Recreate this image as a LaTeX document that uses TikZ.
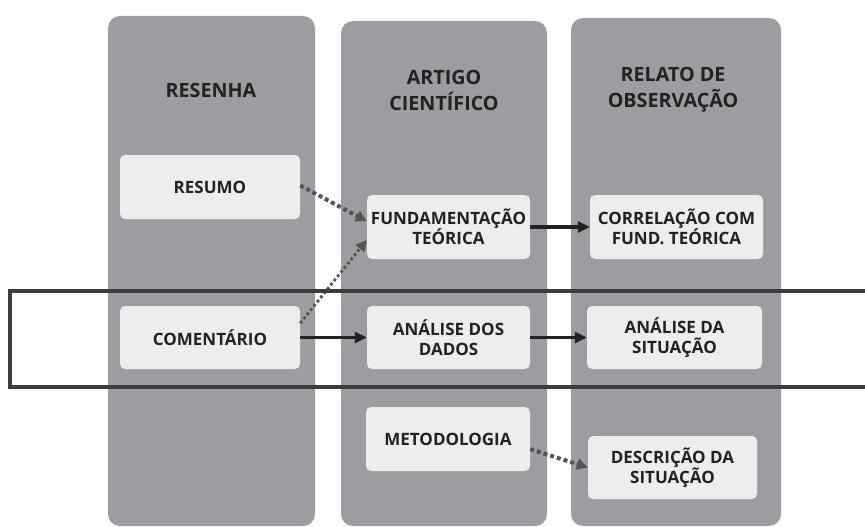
\documentclass[tikz,border=0pt]{standalone}
\usepackage{fontspec}
\setmainfont{Open Sans}
\definecolor{colgray}{RGB}{157,157,161}
\definecolor{boxgray}{RGB}{237,237,237}
\definecolor{txtgray}{RGB}{34,34,34}
\definecolor{dotgray}{RGB}{85,85,85}
\definecolor{framegray}{RGB}{60,60,60}
\usetikzlibrary{arrows.meta, calc, positioning}
\tikzset{
	col/.style={fill=colgray,rounded corners=12pt,inner sep=0pt},
	box/.style={fill=boxgray,rounded corners=5pt,inner sep=0pt,align=center,text=txtgray,font=\fontsize{17}{20}\selectfont\bfseries},
	title/.style={align=center,text=txtgray,font=\fontsize{19.7}{26}\selectfont\bfseries},
	solidarrow/.style={line width=3.2pt,txtgray,-{Triangle[length=12pt,width=11pt]}},
	dotarrow/.style={line width=4pt,dotgray,dash pattern=on 4pt off 3pt,-{Triangle[length=11pt,width=11pt]}},
}
\begin{document}
\begin{tikzpicture}[x=1pt,y=-1pt]
			\useasboundingbox (0,0) rectangle (865,527);
			% columns
			\node[col,minimum width=207pt,minimum height=510pt] (resenhacol) at (211.5,271) {};
			\node[col,minimum width=206pt,minimum height=505pt] (artigocol) at (444,273.5) {};
			\node[col,minimum width=210pt,minimum height=508pt] (relatocol) at (676,272) {};
			\node[title] (resenha) at (211,90) {RESENHA};
			\node[title] (artigo) at (444,90) {ARTIGO\\CIENTÍFICO};
			\node[title] (relato) at (673,90) {RELATO DE\\OBSERVAÇÃO};
			% boxes
			\node[box,minimum width=180pt,minimum height=64pt] (resumo) at (210,187) {RESUMO};
			\node[box,minimum width=180pt,minimum height=63pt] (comentario) at (210,337.5) {COMENTÁRIO};
			\node[box,minimum width=163pt,minimum height=64pt] (fundamentacao) at (448.5,227) {FUNDAMENTAÇÃO\\TEÓRICA};
			\node[box,minimum width=163pt,minimum height=63pt] (analisedados) at (448.5,337.5) {ANÁLISE DOS\\DADOS};
			\node[box,minimum width=164pt,minimum height=64pt] (metodologia) at (448,439) {METODOLOGIA};
			\node[box,minimum width=173pt,minimum height=64pt] (correlacao) at (676.5,227) {CORRELAÇÃO COM\\FUND. TEÓRICA};
			\node[box,minimum width=175pt,minimum height=63pt] (analisesituacao) at (674.5,337.5) {ANÁLISE DA\\SITUAÇÃO};
			\node[box,minimum width=169pt,minimum height=63pt] (descricao) at (672.5,467.5) {DESCRIÇÃO DA\\SITUAÇÃO};
			% arrows
			\draw[solidarrow] (comentario.east)--(analisedados.west);
			\draw[solidarrow] (analisedados.east)--(analisesituacao.west);
			\draw[solidarrow] (fundamentacao.east)--(correlacao.west);
			\draw[dotarrow] (resumo.1)--(fundamentacao.176);
			\draw[dotarrow,line width=2.8pt,dash pattern=on 2.8pt off 2.6pt] (comentario.9)--(fundamentacao.189);
			\draw[dotarrow] (metodologia.353)--(descricao.west);
			% frame
			\draw[line width=4pt,framegray] (865,290.5) -| (10,386.5) -- (865,386.5);
		\end{tikzpicture}
\end{document}
